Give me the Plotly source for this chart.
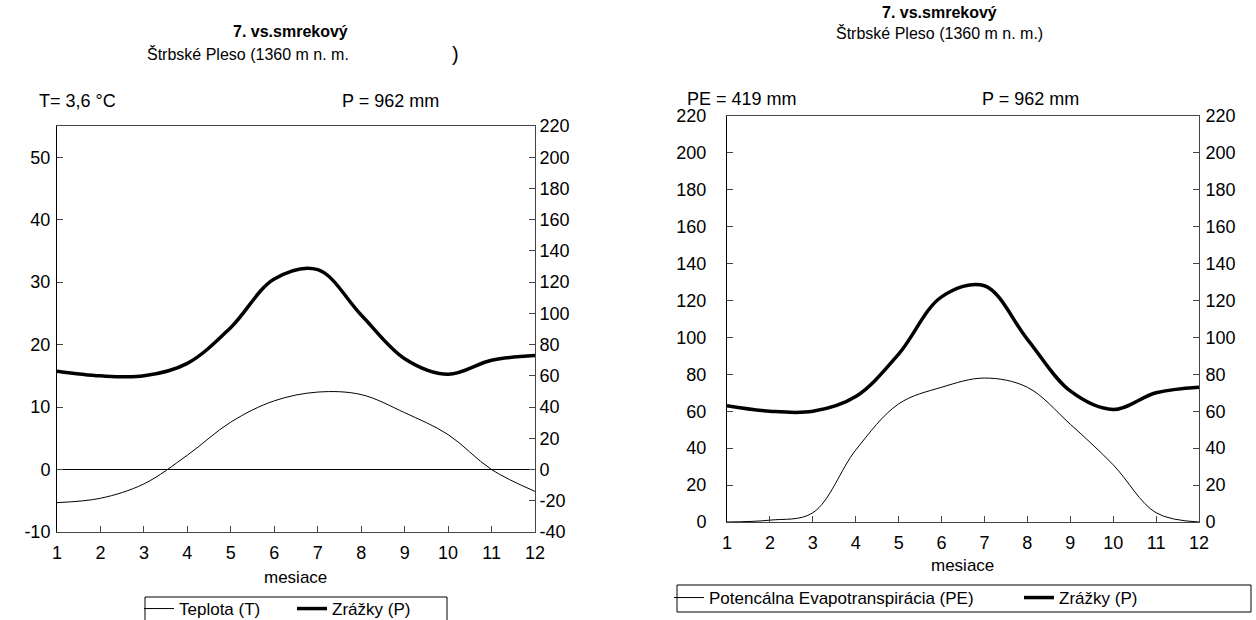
import plotly.graph_objects as go

# ---- data ----
months = [1, 2, 3, 4, 5, 6, 7, 8, 9, 10, 11, 12]
teplota = [-5.3, -4.6, -2.3, 2.3, 7.6, 11.0, 12.4, 12.0, 9.1, 5.6, 0.0, -3.5]
zrazky = [63, 60, 60, 68, 91, 122, 128, 99, 71, 61, 70, 73]
pe = [0, 1, 5, 39, 64, 73, 78, 73, 53, 31, 5, 0]

t_ticks = [-10, 0, 10, 20, 30, 40, 50]
p_ticks_left = [-40, -20, 0, 20, 40, 60, 80, 100, 120, 140, 160, 180, 200, 220]
p_ticks_right = [0, 20, 40, 60, 80, 100, 120, 140, 160, 180, 200, 220]

title_main = "7. vs.smrekový"
subtitle_left = "Štrbské Pleso (1360 m n. m."
subtitle_right = "Štrbské Pleso (1360 m n. m.)"
label_t = "T= 3,6 °C"
label_p = "P = 962 mm"
label_pe = "PE = 419 mm"
x_title = "mesiace"
name_t = "Teplota (T)"
name_p = "Zrážky (P)"
name_pe = "Potencálna Evapotranspirácia (PE)"

# ---- layout helpers ----
W, H = 1256, 620
FONT = "Liberation Sans, Arial, sans-serif"
TS = 18  # tick / label font size


def px(x):
    return x / W


def py(y):
    return 1 - y / H


def labels(vals):
    return [str(v) for v in vals]  # plain hyphen minus like the original


fig = go.Figure()
fig.add_trace(go.Scatter(x=months, y=teplota, name=name_t, mode="lines", showlegend=True,
                         line=dict(color="black", width=1, shape="spline", smoothing=1),
                         xaxis="x", yaxis="y", legend="legend"))
fig.add_trace(go.Scatter(x=months, y=zrazky, name=name_p, mode="lines", showlegend=True,
                         line=dict(color="black", width=3.5, shape="spline", smoothing=1),
                         xaxis="x", yaxis="y2", legend="legend2"))
fig.add_trace(go.Scatter(x=months, y=pe, name=name_pe, mode="lines", showlegend=True,
                         line=dict(color="black", width=1, shape="spline", smoothing=1),
                         xaxis="x2", yaxis="y3", legend="legend3"))
fig.add_trace(go.Scatter(x=months, y=zrazky, name=name_p, mode="lines", showlegend=True,
                         line=dict(color="black", width=3.5, shape="spline", smoothing=1),
                         xaxis="x2", yaxis="y4", legend="legend4"))

tickfont = dict(family=FONT, size=TS, color="black")
axis_common = dict(showgrid=False, ticks="inside", ticklen=6, tickcolor="#444",
                   showline=True, linewidth=1, tickfont=tickfont, fixedrange=True)

fig.update_layout(
    width=W, height=H, showlegend=True,
    margin=dict(l=0, r=0, t=0, b=0, autoexpand=False),
    paper_bgcolor="white", plot_bgcolor="white",
    font=dict(family=FONT, size=16, color="black"),
    xaxis=dict(domain=[px(57), px(535)], anchor="y", range=[1, 12], tickvals=months,
               ticktext=labels(months), ticklabelstandoff=4,
               linecolor="#444", mirror=True, zeroline=False, **axis_common),
    yaxis=dict(domain=[py(532), py(126)], anchor="x", range=[-10, 55], tickvals=t_ticks,
               ticktext=labels(t_ticks), ticklabelstandoff=2,
               linecolor="black", zeroline=True, zerolinecolor="black", zerolinewidth=1,
               **axis_common),
    yaxis2=dict(overlaying="y", side="right", anchor="x", range=[-40, 220],
                tickvals=p_ticks_left, ticktext=labels(p_ticks_left), ticklabelstandoff=0,
                linecolor="#444", zeroline=False, **axis_common),
    xaxis2=dict(domain=[px(727), px(1199)], anchor="y3", range=[1, 12], tickvals=months,
                ticktext=labels(months), ticklabelstandoff=4,
                linecolor="#444", mirror=True, zeroline=False, **axis_common),
    yaxis3=dict(domain=[py(522), py(116)], anchor="x2", range=[0, 220],
                tickvals=p_ticks_right, ticktext=labels(p_ticks_right), ticklabelstandoff=16,
                linecolor="black", zeroline=False, **axis_common),
    yaxis4=dict(overlaying="y3", side="right", anchor="x2", range=[0, 220],
                tickvals=p_ticks_right, ticktext=labels(p_ticks_right), ticklabelstandoff=2,
                linecolor="#444", zeroline=False, **axis_common),
)

legfont = dict(family=FONT, size=17, color="black")
leg_common = dict(orientation="h", xanchor="left", yanchor="middle", font=legfont,
                  bgcolor="rgba(0,0,0,0)", borderwidth=0, visible=True)
fig.update_layout(
    legend=dict(x=px(139), y=py(609), **leg_common),
    legend2=dict(x=px(292), y=py(609), **leg_common),
    legend3=dict(x=px(669), y=py(598), **leg_common),
    legend4=dict(x=px(1019), y=py(598), **leg_common),
)

# legend frames
fig.add_shape(type="rect", xref="paper", yref="paper", x0=px(145), x1=px(447),
              y0=py(630), y1=py(597), line=dict(color="black", width=1))
fig.add_shape(type="rect", xref="paper", yref="paper", x0=px(677), x1=px(1251),
              y0=py(612), y1=py(585), line=dict(color="black", width=1))


def note(text, x, y, xanchor="left", size=TS, bold=False):
    if bold:
        text = "<b>" + text + "</b>"
    fig.add_annotation(text=text, x=px(x), y=py(y), xref="paper", yref="paper",
                       xanchor=xanchor, yanchor="middle", showarrow=False,
                       font=dict(family=FONT, size=size, color="black"))


# left chart texts
note(title_main, 290, 31, "center", 16, True)
note(subtitle_left, 145, 54, "left", 16)
note(")", 455, 54, "center", 20)
note(label_t, 37, 101, "left")
note(label_p, 340, 101, "left")
note(x_title, 295, 577, "center", 17)

# right chart texts
note(title_main, 939, 12, "center", 16, True)
note(subtitle_right, 939, 33, "center", 16)
note(label_pe, 685, 99, "left")
note(label_p, 980, 99, "left")
note(x_title, 962, 565, "center", 17)

fig.write_html("out.html", config={"displayModeBar": False},
               post_script="document.body.style.margin='0';document.body.style.overflow='hidden';")
